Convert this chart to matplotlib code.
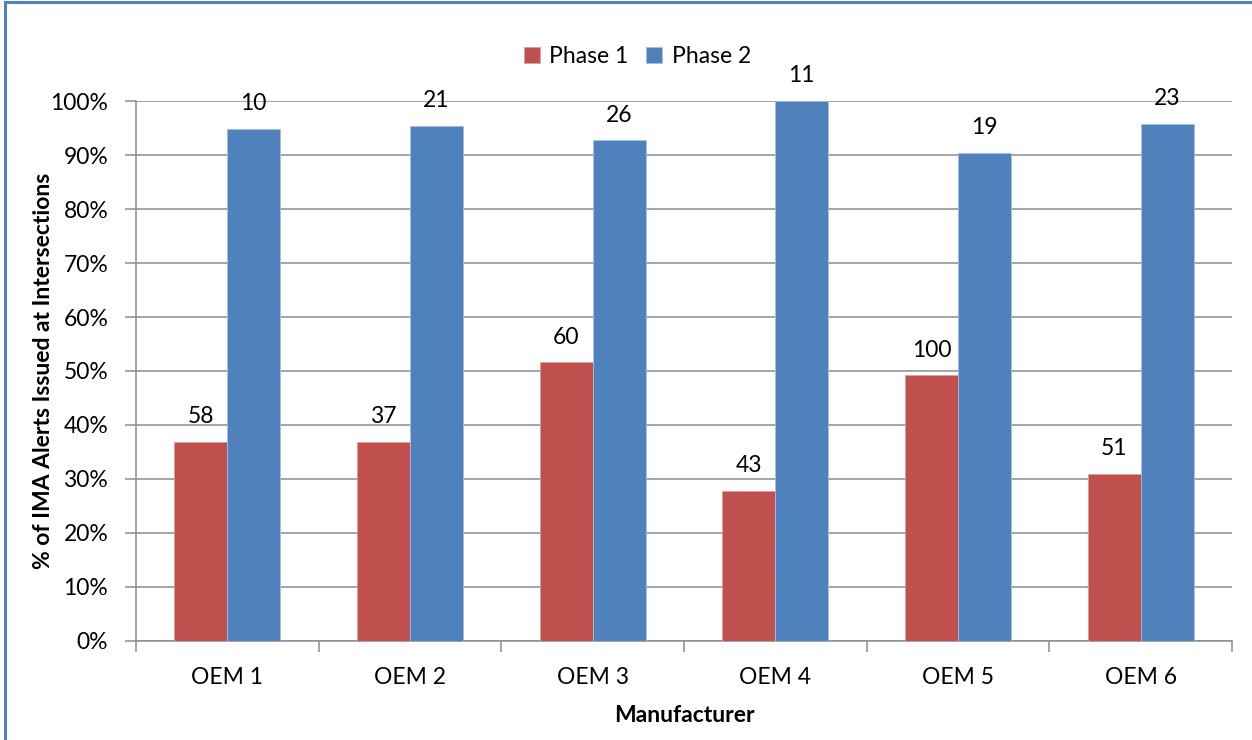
import matplotlib
matplotlib.use("Agg")
import matplotlib.pyplot as plt
from matplotlib.patches import Rectangle
from matplotlib.ticker import PercentFormatter, FixedLocator
import numpy as np

manufacturers = ["OEM 1", "OEM 2", "OEM 3", "OEM 4", "OEM 5", "OEM 6"]
series_names = ["Phase 1", "Phase 2"]
phase1_pct = [36.9, 36.9, 51.6, 27.8, 49.2, 30.9]
phase2_pct = [94.8, 95.4, 92.7, 100.0, 90.4, 95.7]
phase1_counts = [58, 37, 60, 43, 100, 51]
phase2_counts = [10, 21, 26, 11, 19, 23]
y_ticks = [0, 10, 20, 30, 40, 50, 60, 70, 80, 90, 100]

RED = "#C0504D"
BLUE = "#4F81BD"
GRID = "#8C8C8C"
FS = 16.5

plt.rcParams["font.family"] = ["Lato", "DejaVu Sans"]

fig = plt.figure(figsize=(12.52, 7.40), dpi=100)
ax = fig.add_axes([0.1086, 0.1338, 0.8754, 0.7297])

x = np.arange(len(manufacturers))
w = 0.29
b1 = ax.bar(x - w / 2, phase1_pct, w, color=RED, edgecolor="#D8A09E",
            linewidth=0.6, label=series_names[0], zorder=3)
b2 = ax.bar(x + w / 2, phase2_pct, w, color=BLUE, edgecolor="#A7C0DE",
            linewidth=0.6, label=series_names[1], zorder=3)

for bars, counts in ((b1, phase1_counts), (b2, phase2_counts)):
    for rect, c in zip(bars, counts):
        ax.annotate(str(c), (rect.get_x() + rect.get_width() / 2, rect.get_height()),
                    xytext=(0, 13.5), textcoords="offset points",
                    ha="center", va="baseline", fontsize=FS, color="black",
                    zorder=4)

ax.set_xlim(-0.5, len(manufacturers) - 0.5)
ax.set_ylim(0, 100)
ax.yaxis.set_major_locator(FixedLocator(y_ticks))
ax.yaxis.set_major_formatter(PercentFormatter(decimals=0))
ax.yaxis.grid(True, color=GRID, linewidth=1.1, zorder=0)
ax.set_axisbelow(True)

ax.set_xticks(x)
ax.set_xticklabels(manufacturers)
ax.set_xticks(np.arange(len(manufacturers) + 1) - 0.5, minor=True)
ax.tick_params(axis="x", which="major", length=0, pad=19, labelsize=FS)
ax.tick_params(axis="x", which="minor", length=8, width=1.1, color=GRID, direction="out")
ax.tick_params(axis="y", length=8, width=1.1, color=GRID, direction="out", pad=12, labelsize=FS)

for side in ("top", "right"):
    ax.spines[side].set_visible(False)
for side in ("left", "bottom"):
    ax.spines[side].set_color(GRID)
    ax.spines[side].set_linewidth(1.1)

ax.set_ylabel("% of IMA Alerts Issued at Intersections", fontsize=FS,
              fontweight="bold", labelpad=-3)
ax.set_xlabel("Manufacturer", fontsize=FS, fontweight="bold", labelpad=12)

fig.legend(handles=[b1, b2], labels=series_names, loc="center",
           bbox_to_anchor=(0.509, 0.924), ncol=2, frameon=False, fontsize=FS,
           handlelength=0.7, handleheight=0.7, handletextpad=0.4,
           columnspacing=0.8)

# chart frame
fig.patches.append(Rectangle((5 / 1252, -0.05), 1.2, 1.05 - 2.5 / 740,
                             transform=fig.transFigure, fill=False,
                             edgecolor=BLUE, linewidth=2.2))

fig.savefig("out.png", dpi=100, facecolor="white")
